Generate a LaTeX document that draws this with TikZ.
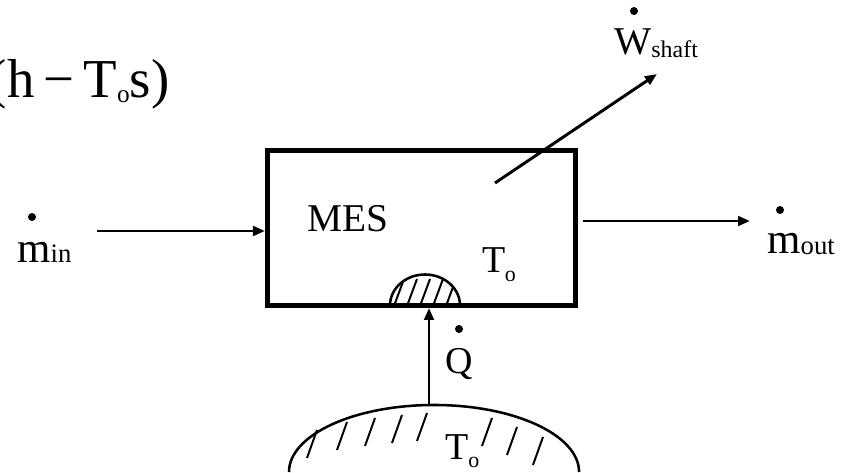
\documentclass[tikz,border=0pt]{standalone}
\usepackage{fontspec}
\setmainfont{Liberation Serif}
\usepackage{tikz}
\usetikzlibrary{arrows.meta, positioning, calc}
\newcommand{\fsz}[1]{\fontsize{#1}{#1}\selectfont}
\newcommand{\subtext}[3]{\raisebox{#1}{\fsz{#2}#3}}

\begin{document}
\begin{tikzpicture}[
    x=0.025cm, y=-0.025cm,
    label/.style={inner sep=0pt, anchor=base west},
    dot/.style={circle, fill=black, inner sep=0pt, minimum size=0.2cm},
    cv/.style={rectangle, draw, line width=3.5pt, minimum width=7.7cm, minimum height=3.875cm, inner sep=0pt},
    flow/.style={-{Triangle[length=3mm, width=2.4mm]}, line width=2.1pt},
    hatch/.style={line width=1.4pt}
]
\useasboundingbox (0,0) rectangle (844,473);
\clip (0,0) rectangle (844,473);

% control volume
\node[cv] (mes) at (421.5,228) {};
\node[label] (meslabel) at (307,232) {\fsz{28}MES};
\node[label] (tin) at (482,272) {\fsz{27}T\kern-0.5pt\subtext{-7pt}{15.6}{o}};

% flow terms
\node[label] (psi) at (-11.5,98) {\fsz{39}(h\,−\,T\subtext{-3.5pt}{18}{o}s)};
\node[label] (min) at (17,262) {\fsz{30.5}m\subtext{0pt}{19}{in}};
\node[dot] (mindot) at (32,217) {};
\node[label] (mout) at (767,253) {\fsz{30.5}m\subtext{-1pt}{19}{out}};
\node[dot] (moutdot) at (780,210) {};
\node[label] (wshaft) at (614,55) {\fsz{28}W\subtext{-2pt}{17}{shaft}};
\node[dot] (wdot) at (634,11) {};
\node[label] (qheat) at (445,373) {\fsz{27}Q};
\node[dot] (qdot) at (459,329) {};

\coordinate (inend) at (97,231);
\coordinate (outend) at (750,221);
\coordinate (shafttail) at (495,183);
\coordinate (shafttip) at (657,74);
\coordinate (res) at (429,405.5);

\draw[flow] (inend) -- (inend -| mes.west);
\draw[flow, shorten <=0.12cm] (outend -| mes.east) -- (outend);
\draw[flow] (shafttail) -- (shafttip);
\draw[flow] (res) -- (res |- mes.south);

% heat port on the wall
\draw[line width=1.8pt] (390,305.5) arc[start angle=180, end angle=0, x radius=0.875cm, y radius=0.775cm];
\begin{scope}
\clip (390,305.5) arc[start angle=180, end angle=0, x radius=0.875cm, y radius=0.775cm] -- cycle;
\foreach \hx in {394,407,420,433,446}
    \draw[hatch] (\hx,306) -- ++(10,-27);
\end{scope}

% surroundings at To
\draw[line width=1.8pt] (289,472) arc[start angle=180, end angle=0, x radius=3.625cm, y radius=1.675cm];
\foreach \hx/\hy in {317/430, 347/422, 375/418, 402/415, 427/413, 492/418, 517/427, 543/437}
    \draw[hatch] (\hx,\hy) -- ++(-10,28);
\node[label] (tres) at (445,459) {\fsz{27}T\subtext{-6pt}{15.6}{o}};
\end{tikzpicture}
\end{document}
